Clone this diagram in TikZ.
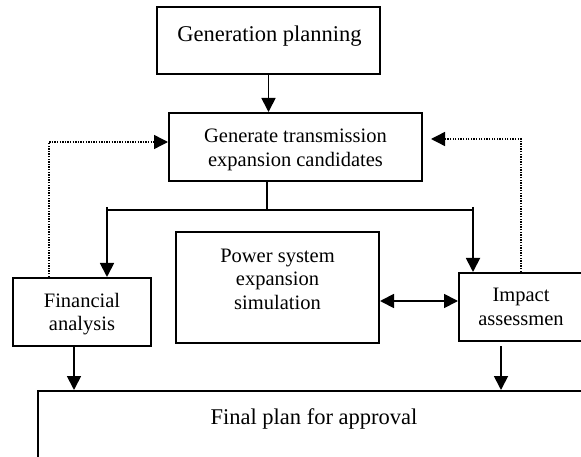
\documentclass[tikz,border=0pt]{standalone}
\usepackage{fontspec}
\setmainfont{Liberation Serif}
\usetikzlibrary{arrows.meta}
\begin{document}
\begin{tikzpicture}[x=1bp,y=-1bp,
  box/.style={draw, line width=2bp, inner sep=0pt},
  txt/.style={inner sep=0pt, align=center, font=\fontsize{20.5bp}{23.5bp}\selectfont},
  big/.style={inner sep=0pt, font=\fontsize{22.5bp}{26bp}\selectfont},
  conn/.style={line width=1.8bp},
  arr/.style={line width=1.8bp, -{Triangle[length=14bp,width=14bp]}},
  dblarr/.style={line width=1.8bp, {Triangle[length=14bp,width=14bp]}-{Triangle[length=14bp,width=14bp]}},
  dots/.style={line width=1.4bp, dash pattern=on 1.3bp off 1.3bp, -{Triangle[length=14bp,width=14bp]}}
]
\useasboundingbox (0,0) rectangle (581,457);
\clip (0,0) rectangle (581,457);

\node[box, minimum width=223bp, minimum height=67bp] (gp) at (268.5,40.5) {};
\node[big, anchor=base] (gpt) at (269.5,42) {Generation planning};

\node[box, minimum width=253bp, minimum height=68bp] (gtec) at (295.5,147) {};
\node[txt] (gtect) at (295.5,150) {Generate transmission\\expansion candidates};

\node[box, minimum width=203bp, minimum height=111bp] (pow) at (277.5,287.5) {};
\node[txt] (powt) at (277.5,279) {Power system\\expansion\\simulation};

\node[box, minimum width=138bp, minimum height=68bp] (fin) at (82,312) {};
\node[txt] (fint) at (82,314) {Financial\\analysis};

\node[box, minimum width=124bp, minimum height=68bp] (imp) at (521,307) {};
\node[txt] (impt) at (521,307) {Impact\\assessmen};

\node[box, minimum width=552bp, minimum height=130bp] (final) at (314,456) {};
\node[big, anchor=base] (finalt) at (314,424) {Final plan for approval};

\coordinate (barL) at (107,210);
\coordinate (barM) at (267,210);
\coordinate (barR) at (473,210);

\draw[arr] (gp.south) -- (gp.south |- gtec.north);
\draw[conn] (barM |- gtec.south) -- (barM);
\draw[conn] (barL) -- (barR);
\draw[arr] ([yshift=3bp]barL) -- (barL |- fin.north);
\draw[arr] ([yshift=3bp]barR) -- (barR |- imp.north);

\draw[dblarr] ([yshift=-13.5bp]pow.east) -- ([yshift=-13.5bp]pow.east -| imp.west);

\draw[arr] ([xshift=-8bp]fin.south) -- ([xshift=-8bp]fin.south |- final.north);
\draw[arr] ([xshift=-20bp,yshift=-4bp]imp.south) -- ([xshift=-20bp]imp.south |- final.north);

\draw[dots] ([xshift=-33bp]fin.north) |- ([yshift=5bp]gtec.west);
\draw[dots] (imp.north) |- ([xshift=8bp,yshift=8bp]gtec.east);
\end{tikzpicture}
\end{document}
